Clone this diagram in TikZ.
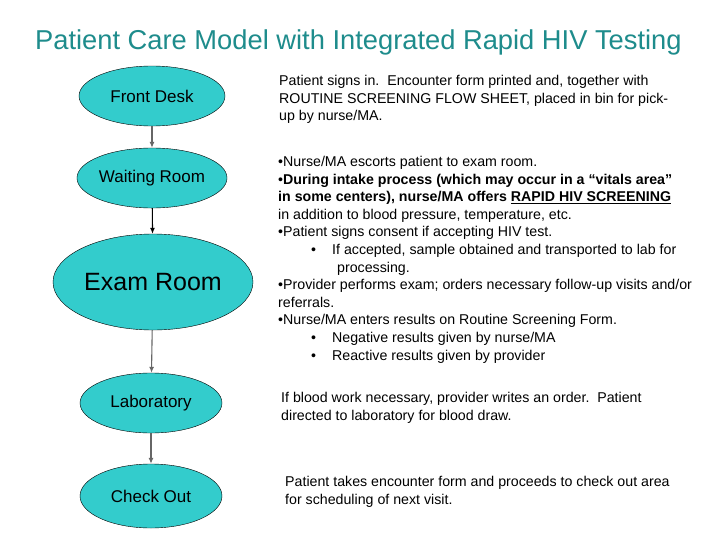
\documentclass[tikz,border=0pt]{standalone}
\usepackage{fontspec}
\setmainfont{Liberation Sans}
\usetikzlibrary{shapes.geometric,arrows.meta}
\definecolor{teal1}{HTML}{33CCCC}
\definecolor{titlec}{HTML}{1E8C8C}
\begin{document}
\begin{tikzpicture}[x=1pt,y=-1pt,
  stage/.style={ellipse,draw=black,fill=teal1,inner sep=0pt,font=\fontsize{17}{19}\selectfont},
  para/.style={anchor=north west,align=left,inner sep=0pt,font=\fontsize{14.2}{17.6}\selectfont},
  arr/.style={-{Latex[length=6pt,width=5pt]},line width=1.1pt}]
\useasboundingbox (0,0) rectangle (728,546);
\fill[white] (0,0) rectangle (728,546);
\node[anchor=west,inner sep=0pt,text=titlec,font=\fontsize{27.3}{30}\selectfont] (title) at (35,42) {Patient Care Model with Integrated Rapid HIV Testing};
\node[stage,minimum width=146,minimum height=60] (fd) at (152,96) {Front Desk};
\node[stage,minimum width=146,minimum height=60] (wr) at (152,178) {Waiting Room};
\node[stage,minimum width=200,minimum height=96,font=\fontsize{25}{28}\selectfont] (ex) at (153,282) {Exam Room};
\node[stage,minimum width=142,minimum height=60] (lab) at (151,403) {Laboratory};
\node[stage,minimum width=142,minimum height=64] (co) at (151,496) {Check Out};
\draw[arr,gray!80!black] (fd) -- (wr);
\draw[arr,black] (wr) -- (ex);
\draw[arr,gray!80!black] (ex) -- (lab);
\draw[arr,gray!80!black] (lab) -- (co);
\node[para] (t1) at (279,75) {Patient signs in.\ \ Encounter form printed and, together with\\ROUTINE SCREENING FLOW SHEET, placed in bin for pick-\\up by nurse/MA.};
\node[para] (t2) at (278,156) {•Nurse/MA escorts patient to exam room.\\
•\textbf{During intake process (which may occur in a “vitals area”}\\
\textbf{in some centers), nurse/MA offers \underline{RAPID HIV SCREENING}}\\
in addition to blood pressure, temperature, etc.\\
•Patient signs consent if accepting HIV test.\\
\hspace{33pt}•\hspace{16pt}If accepted, sample obtained and transported to lab for\\
\hspace{59pt}processing.\\
•Provider performs exam; orders necessary follow-up visits and/or\\
referrals.\\
•Nurse/MA enters results on Routine Screening Form.\\
\hspace{33pt}•\hspace{16pt}Negative results given by nurse/MA\\
\hspace{33pt}•\hspace{16pt}Reactive results given by provider};
\node[para] (t3) at (281,392) {If blood work necessary, provider writes an order.\ \ Patient\\directed to laboratory for blood draw.};
\node[para] (t4) at (285,476) {Patient takes encounter form and proceeds to check out area\\for scheduling of next visit.};
\end{tikzpicture}
\end{document}
